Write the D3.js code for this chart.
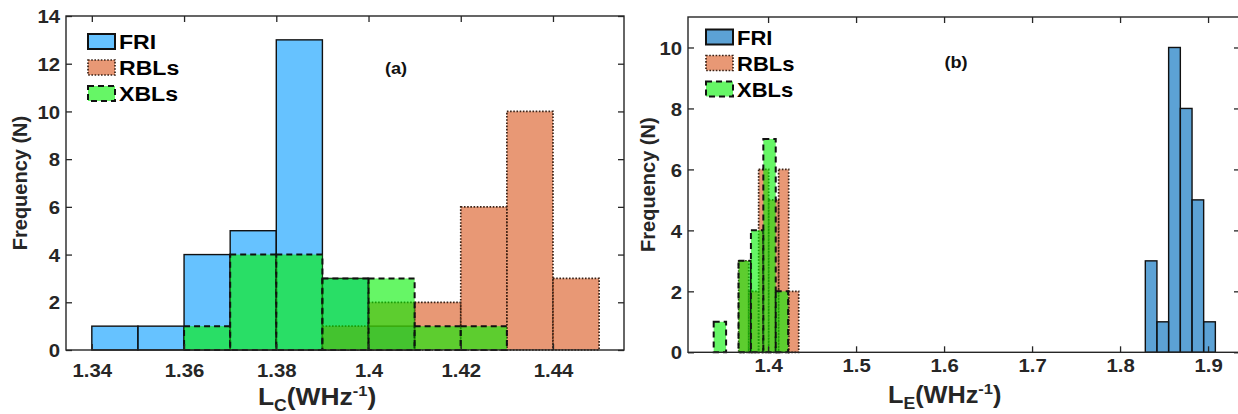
<!DOCTYPE html>
<html>
<head>
<meta charset="utf-8">
<script src="https://cdn.jsdelivr.net/npm/d3@7"></script>
<style>
  body { margin: 0; background: #fff; }
  svg { display: block; }
</style>
</head>
<body>
<svg id="chart" width="1238" height="414"></svg>
<script>
// ---- Panel (a): core luminosity L_C, common bins of width 0.01 ----
const lcBinStarts = [1.34, 1.35, 1.36, 1.37, 1.38, 1.39, 1.40, 1.41, 1.42, 1.43, 1.44];
const lcBinWidth = 0.01;
const lcFRI = [1, 1, 4, 5, 13, 3, 1, 0, 0, 0, 0];
const lcRBL = [0, 0, 0, 0, 0, 1, 2, 2, 6, 10, 3];
const lcXBL = [0, 0, 1, 4, 4, 3, 3, 1, 1, 0, 0];
const lcXTicks = [1.34, 1.36, 1.38, 1.40, 1.42, 1.44];
const lcYTicks = [0, 2, 4, 6, 8, 10, 12, 14];

// ---- Panel (b): extended luminosity L_E, each sample with its own bins ----
const leFRIEdges = [1.8287, 1.8419, 1.8552, 1.8685, 1.8818, 1.8950, 1.9083];
const leFRI = [3, 1, 10, 8, 5, 1];
const leRBLEdges = [1.3666, 1.3780, 1.3893, 1.4007, 1.4120, 1.4234, 1.4348];
const leRBL = [3, 2, 6, 5, 6, 2];
const leXBLEdges = [1.3382, 1.3523, 1.3664, 1.3805, 1.3946, 1.4087, 1.4228];
const leXBL = [1, 0, 3, 4, 7, 2];
const leXTicks = [1.4, 1.5, 1.6, 1.7, 1.8, 1.9];
const leYTicks = [0, 2, 4, 6, 8, 10];

const seriesNames = ["FRI", "RBLs", "XBLs"];

// ---- shared look ----
const FONT = "Arial, 'Liberation Sans', Helvetica, sans-serif";
const SX = 1.1;              // horizontal stretch applied to all text
const AXIS = "#262626";
const edgeStyles = {
  FRI:  { stroke: "#111",    dash: null,      sw: 1.4 },
  RBLs: { stroke: "#3a2216", dash: "1.6 1.6", sw: 1.7 },
  XBLs: { stroke: "#111",    dash: "6 4",     sw: 2 }
};

const svg = d3.select("#chart").style("font-family", FONT);

const fmt = d => String(+d.toFixed(2));

function edgesFromStarts(starts, w) {
  return starts.concat([starts[starts.length - 1] + w]);
}

function drawPanel(cfg) {
  const g = svg.append("g");
  const x = d3.scaleLinear().domain(cfg.xDomain).range([cfg.left, cfg.right]);
  const y = d3.scaleLinear().domain(cfg.yDomain).range([cfg.bottom, cfg.top]);

  // histogram bars, drawn FRI -> RBLs -> XBLs
  cfg.series.forEach(s => {
    const st = edgeStyles[s.name];
    const bins = s.counts
      .map((n, i) => ({ x0: s.edges[i], x1: s.edges[i + 1], n }))
      .filter(d => d.n > 0);
    g.append("g").selectAll("rect").data(bins).join("rect")
      .attr("x", d => x(d.x0))
      .attr("width", d => x(d.x1) - x(d.x0))
      .attr("y", d => y(d.n))
      .attr("height", d => y(0) - y(d.n))
      .attr("fill", s.fill)
      .attr("fill-opacity", s.opacity)
      .attr("stroke", st.stroke)
      .attr("stroke-width", st.sw)
      .attr("stroke-dasharray", st.dash);
  });

  // axes with inward ticks on all four sides
  const tick = 6;
  const bottom = g.append("g").attr("transform", `translate(0,${cfg.bottom})`)
    .call(d3.axisBottom(x).tickValues(cfg.xTicks).tickFormat(fmt)
      .tickSizeInner(-tick).tickSizeOuter(0).tickPadding(cfg.xPad));
  const top = g.append("g").attr("transform", `translate(0,${cfg.top})`)
    .call(d3.axisTop(x).tickValues(cfg.xTicks).tickFormat("")
      .tickSizeInner(-tick).tickSizeOuter(0));
  const left = g.append("g").attr("transform", `translate(${cfg.left},0)`)
    .call(d3.axisLeft(y).tickValues(cfg.yTicks).tickFormat(d3.format("d"))
      .tickSizeInner(-tick).tickSizeOuter(0).tickPadding(6));
  const right = g.append("g").attr("transform", `translate(${cfg.right},0)`)
    .call(d3.axisRight(y).tickValues(cfg.yTicks).tickFormat("")
      .tickSizeInner(-tick).tickSizeOuter(0));

  [bottom, top, left, right].forEach(a => {
    a.select(".domain").remove();
    a.selectAll("line").attr("stroke", AXIS).attr("stroke-width", 1.3);
    a.selectAll("text")
      .attr("fill", AXIS)
      .attr("font-family", FONT)
      .attr("font-weight", "bold")
      .attr("font-size", cfg.tickFont)
      .attr("transform", `scale(${SX},1)`);
  });
  left.selectAll("text").attr("x", -6 / SX).attr("dy", "0.36em");

  // box
  g.append("rect")
    .attr("x", cfg.left).attr("y", cfg.top)
    .attr("width", cfg.right - cfg.left).attr("height", cfg.bottom - cfg.top)
    .attr("fill", "none").attr("stroke", AXIS).attr("stroke-width", 1.4);

  // y label
  g.append("text")
    .attr("transform", `translate(${cfg.yLabelX},${(cfg.top + cfg.bottom) / 2}) rotate(-90)`)
    .attr("text-anchor", "middle")
    .attr("font-weight", "bold").attr("font-size", 20).attr("fill", AXIS)
    .text("Frequency (N)");

  // x label with sub/superscripts
  const xl = g.append("text")
    .attr("transform", `translate(${cfg.xLabelX},${cfg.xLabelY}) scale(${SX},1)`)
    .attr("font-weight", "bold").attr("font-size", cfg.xLabelFont).attr("fill", AXIS);
  xl.append("tspan").text("L");
  xl.append("tspan").attr("font-size", 16).attr("dy", 6).text(cfg.sub);
  xl.append("tspan").attr("dy", -6).text("(WHz");
  xl.append("tspan").attr("font-size", 15).attr("dy", -9).text("-1");
  xl.append("tspan").attr("dy", 9).text(")");

  // panel tag
  g.append("text")
    .attr("transform", `translate(${cfg.tagX},${cfg.tagY}) scale(${SX},1)`)
    .attr("text-anchor", "middle")
    .attr("font-weight", "bold").attr("font-size", 16.5).attr("fill", "#111")
    .text(cfg.tag);

  // legend
  const lg = g.append("g");
  cfg.series.forEach((s, i) => {
    const st = edgeStyles[s.name];
    const cy = cfg.legY + i * 26;
    lg.append("rect")
      .attr("x", cfg.legX).attr("y", cy - 7.5)
      .attr("width", 27).attr("height", 15)
      .attr("fill", s.fill).attr("fill-opacity", s.opacity)
      .attr("stroke", st.stroke).attr("stroke-width", s.name === "FRI" ? 2 : st.sw)
      .attr("stroke-dasharray", st.dash);
    lg.append("text")
      .attr("transform", `translate(${cfg.legX + 31},${cy + 7.5}) scale(${SX},1)`)
      .attr("font-weight", "bold").attr("font-size", cfg.legFont).attr("fill", "#000")
      .text(s.name);
  });
}

const lcEdges = edgesFromStarts(lcBinStarts, lcBinWidth);

drawPanel({
  left: 66, right: 624, top: 16, bottom: 350,
  xDomain: [1.3344, 1.4554], yDomain: [0, 14],
  xTicks: lcXTicks, yTicks: lcYTicks, xPad: 13.5, tickFont: 18.5,
  yLabelX: 27, xLabelX: 258, xLabelY: 405, xLabelFont: 24, sub: "C",
  tag: "(a)", tagX: 396, tagY: 74,
  legX: 88, legY: 41.5, legFont: 21,
  series: [
    { name: seriesNames[0], edges: lcEdges, counts: lcFRI, fill: "rgb(0,153,255)", opacity: 0.6 },
    { name: seriesNames[1], edges: lcEdges, counts: lcRBL, fill: "rgb(217,83,25)", opacity: 0.6 },
    { name: seriesNames[2], edges: lcEdges, counts: lcXBL, fill: "rgb(0,240,0)", opacity: 0.6 }
  ]
});

drawPanel({
  left: 688, right: 1240, top: 17, bottom: 352.3,
  xDomain: [1.309, 1.9363], yDomain: [0, 11],
  xTicks: leXTicks, yTicks: leYTicks, xPad: 6.5, tickFont: 18.5,
  yLabelX: 655, xLabelX: 888, xLabelY: 403, xLabelFont: 23, sub: "E",
  tag: "(b)", tagX: 956, tagY: 68,
  legX: 706, legY: 37, legFont: 20,
  series: [
    { name: seriesNames[0], edges: leFRIEdges, counts: leFRI, fill: "rgb(0,110,190)", opacity: 0.64 },
    { name: seriesNames[1], edges: leRBLEdges, counts: leRBL, fill: "rgb(217,83,25)", opacity: 0.6 },
    { name: seriesNames[2], edges: leXBLEdges, counts: leXBL, fill: "rgb(0,240,0)", opacity: 0.6 }
  ]
});
</script>
</body>
</html>
